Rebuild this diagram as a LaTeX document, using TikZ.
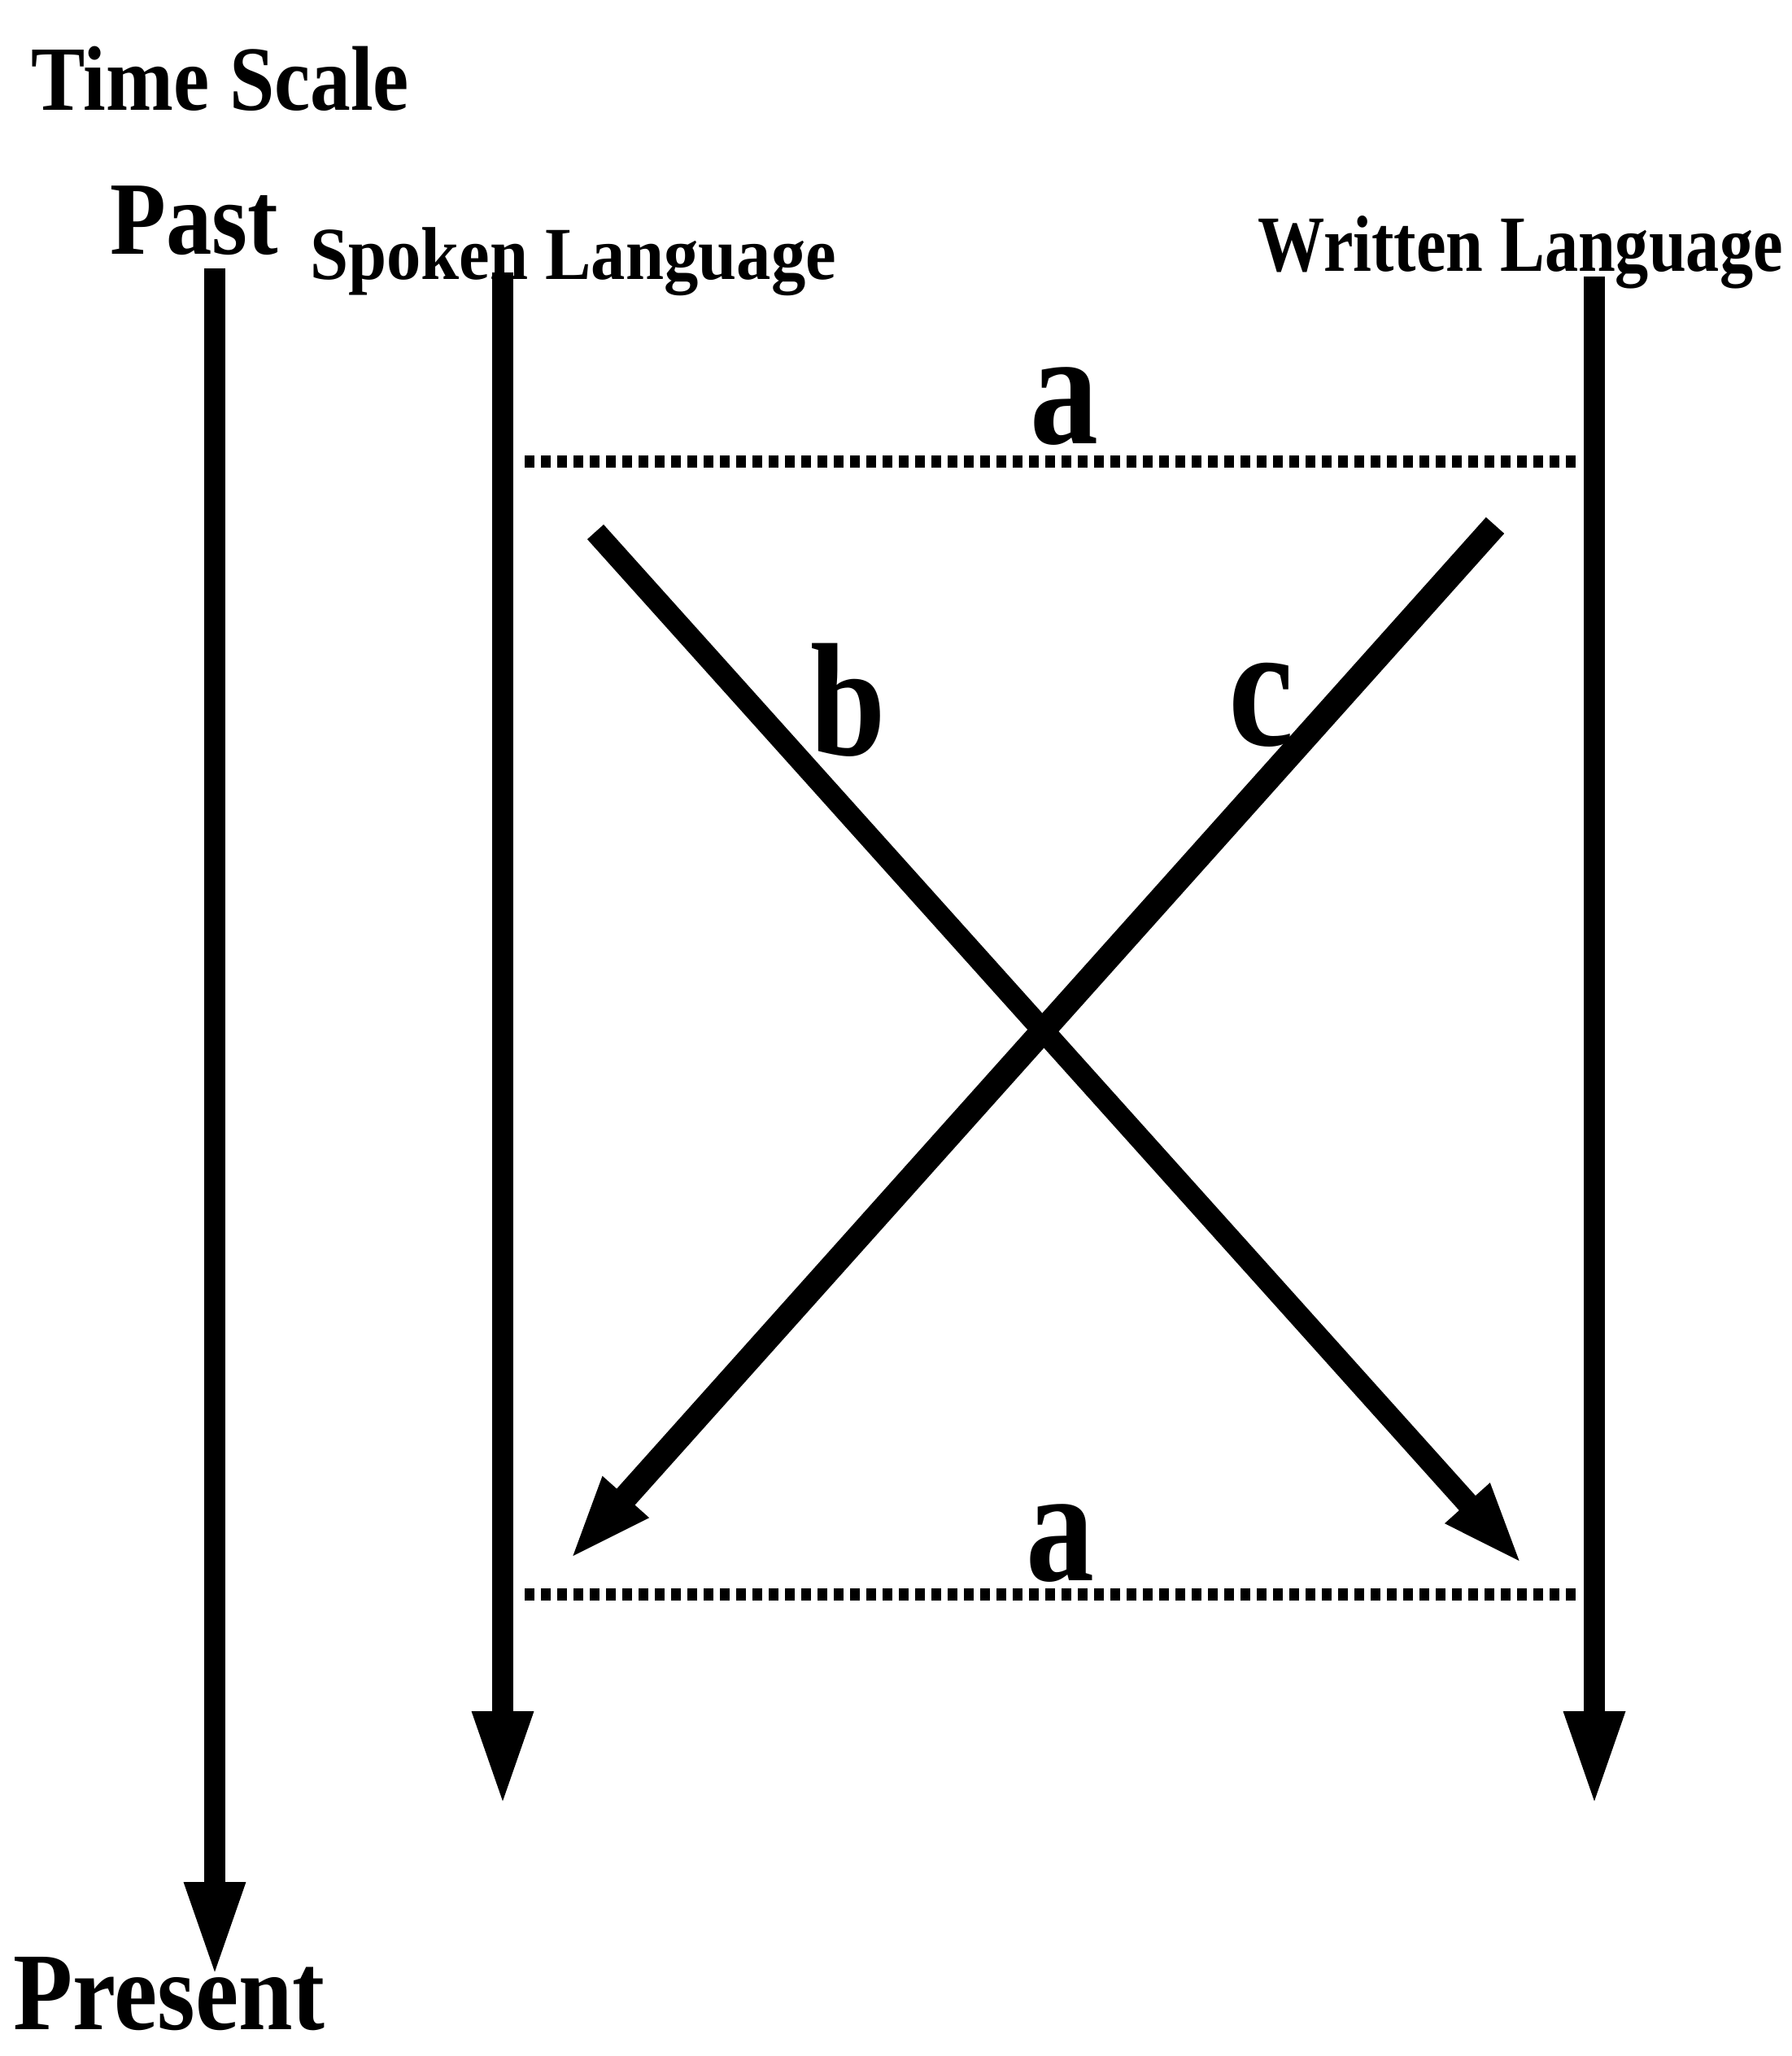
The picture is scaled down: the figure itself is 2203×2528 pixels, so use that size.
\documentclass[tikz,border=0pt]{standalone}
\usepackage{fontspec}
\newfontfamily\fb[FakeStretch=0.88]{Liberation Serif}
\newfontfamily\fsp[FakeStretch=0.92]{Liberation Serif}
\newfontfamily\fwr[FakeStretch=0.84]{Liberation Serif}
\newfontfamily\fl[FakeStretch=0.84]{Liberation Serif}
\usetikzlibrary{arrows.meta}
\begin{document}
\begin{tikzpicture}[x=1pt,y=-1pt,
  txt/.style={inner sep=0pt,anchor=base west},
  lbl/.style={inner sep=0pt,anchor=base},
  timeline/.style={line width=26pt,-{Triangle[width=68pt,length=118pt]}},
  crossb/.style={line width=27pt,-{Triangle[width=66pt,length=102pt]}},
  crossc/.style={line width=30pt,-{Triangle[width=68pt,length=104pt]}},
  dotline/.style={line width=15pt,dash pattern=on 12pt off 8pt}]
\useasboundingbox (0,0) rectangle (2203,2528);
% texts
\node[txt,font=\fb\bfseries\fontsize{113}{113}\selectfont] (ts) at (38,135) {Time Scale};
\node[txt,font=\fb\bfseries\fontsize{128}{128}\selectfont] (past) at (135,312) {Past};
\node[txt,font=\fsp\bfseries\fontsize{92}{92}\selectfont] (spoken) at (381,343) {Spoken Language};
\node[txt,font=\fwr\bfseries\fontsize{98}{98}\selectfont] (written) at (1546,333) {Written Language};
\node[txt,font=\fb\bfseries\fontsize{136}{136}\selectfont] (present) at (16,2495) {Present};
% coordinates
\coordinate (t0) at (264,330);
\coordinate (t1) at (264,2432);
\coordinate (s0) at (618,335);
\coordinate (s1) at (618,2222);
\coordinate (w0) at (1960,340);
\coordinate (w1) at (1960,2222);
\coordinate (d0) at (645,567);
\coordinate (d1) at (1942,567);
\coordinate (e0) at (645,1960);
\coordinate (e1) at (1942,1960);
\coordinate (b0) at (732,654);
\coordinate (b1) at (1872,1924);
\coordinate (c0) at (1838,646);
\coordinate (c1) at (700,1918);
% lines
\draw[timeline] (t0) -- (t1);
\draw[timeline] (s0) -- (s1);
\draw[timeline] (w0) -- (w1);
\draw[dotline] (d0) -- (d1);
\draw[dotline] (e0) -- (e1);
\draw[crossb] (b0) -- (b1);
\draw[crossc] (c0) -- (c1);
% labels
\node[lbl,font=\fl\bfseries\fontsize{200}{200}\selectfont] (atop) at (1308,545) {a};
\node[lbl,font=\fl\bfseries\fontsize{200}{200}\selectfont] (abot) at (1303,1943) {a};
\node[lbl,font=\fl\bfseries\fontsize{198}{198}\selectfont] (blab) at (1043,928) {b};
\node[lbl,font=\fl\bfseries\fontsize{215}{215}\selectfont] (clab) at (1551,916) {c};
\end{tikzpicture}
\end{document}
